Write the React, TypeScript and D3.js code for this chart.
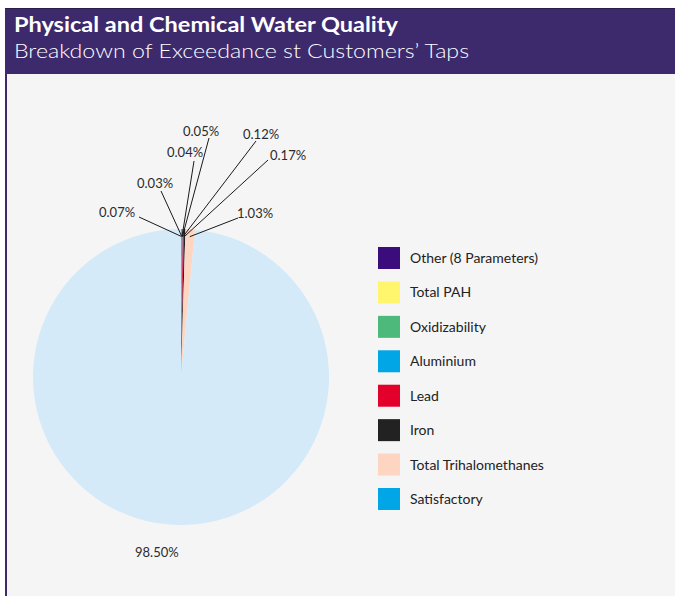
import React from "react";
import * as d3 from "d3";

// Share of samples at customers' taps, by outcome (percent)
const categories = [
  "Other (8 Parameters)",
  "Total PAH",
  "Oxidizability",
  "Aluminium",
  "Lead",
  "Iron",
  "Total Trihalomethanes",
  "Satisfactory",
];
const shares = [0.07, 0.03, 0.04, 0.05, 0.12, 0.17, 1.03, 98.5];
const shareLabels = ["0.07%", "0.03%", "0.04%", "0.05%", "0.12%", "0.17%", "1.03%", "98.50%"];

// Slice fills and legend swatches
const sliceColors = ["#3a0c7c", "#fff66e", "#4dba7b", "#00a6e6", "#e3002a", "#222222", "#fdd5c1", "#d4eaf8"];
const swatchColors = ["#3a0c7c", "#fff66e", "#4dba7b", "#00a6e6", "#e3002a", "#222222", "#fdd5c1", "#00a6e6"];

// Callout placement for each label: text start, baseline, and where its leader begins
const calloutLayout = [
  { tx: 99, ty: 217, lx: 139, ly: 217 },
  { tx: 137, ty: 188, lx: 161, ly: 191 },
  { tx: 167, ty: 157, lx: 194, ly: 161 },
  { tx: 183, ty: 136, lx: 209, ly: 138 },
  { tx: 243, ty: 139, lx: 256, ly: 141 },
  { tx: 270, ty: 160, lx: 268, ly: 160 },
  { tx: 237, ty: 218, lx: 238, ly: 218 },
  { tx: 135, ty: 557, lx: 0, ly: 0 },
];

const W = 675;
const H = 596;
const cx = 181;
const cy = 377;
const R = 148;
const FONT = "Lato, 'Open Sans', sans-serif";

export default function App() {
  const pie = d3
    .pie<number>()
    .sort(null)
    .startAngle(0)
    .endAngle(2 * Math.PI)
    .value((d) => d);
  const arcs = pie(shares);
  const arc = d3.arc<d3.PieArcDatum<number>>().innerRadius(0).outerRadius(R);

  const legendY = d3
    .scalePoint<string>()
    .domain(categories)
    .range([258, 499]);

  return (
    <div style={{ position: "absolute", left: 0, top: 0, width: W, height: H }}>
      <svg width={W} height={H} style={{ display: "block", fontFamily: FONT }}>
        <rect x={0} y={0} width={W} height={H} fill="#ffffff" />
        <rect x={7} y={74} width={W - 7} height={H - 74} fill="#f5f5f5" />
        <rect x={5} y={74} width={2} height={H - 74} fill="#3c2a6d" />
        <rect x={5} y={8} width={W - 5} height={66} fill="#3c2a6d" />
        <rect x={5} y={8} width={W - 5} height={1} fill="#2a1d4e" />
        <text
          x={14}
          y={32}
          fill="#ffffff"
          fontSize={20}
          fontWeight={700}
          textLength={384}
          lengthAdjust="spacingAndGlyphs"
        >
          Physical and Chemical Water Quality
        </text>
        <text
          x={14}
          y={58}
          fill="#ffffff"
          fontSize={20}
          fontWeight={300}
          textLength={455}
          lengthAdjust="spacingAndGlyphs"
        >
          Breakdown of Exceedance st Customers’ Taps
        </text>

        <g transform={`translate(${cx},${cy})`}>
          {arcs.map((a, i) => (
            <path key={categories[i]} d={arc(a) || ""} fill={sliceColors[i]} />
          ))}
        </g>

        {arcs.map((a, i) => {
          const c = calloutLayout[i];
          const last = i === arcs.length - 1;
          const mid = (a.startAngle + a.endAngle) / 2;
          const er = R * 0.95;
          const ex = cx + Math.sin(mid) * er;
          const ey = cy - Math.cos(mid) * er;
          return (
            <g key={"lab" + i}>
              {!last && (
                <line x1={c.lx} y1={c.ly} x2={ex} y2={ey} stroke="#1a1a1a" strokeWidth={1} />
              )}
              <text x={c.tx} y={c.ty} fontSize={13} fill="#2b2b2b">
                {shareLabels[i]}
              </text>
            </g>
          );
        })}

        {categories.map((name, i) => {
          const y = legendY(name) as number;
          return (
            <g key={"leg" + name}>
              <rect x={378} y={y - 11} width={22} height={22} fill={swatchColors[i]} />
              <text x={410} y={y + 5} fontSize={14} fill="#222222">
                {name}
              </text>
            </g>
          );
        })}
      </svg>
    </div>
  );
}
